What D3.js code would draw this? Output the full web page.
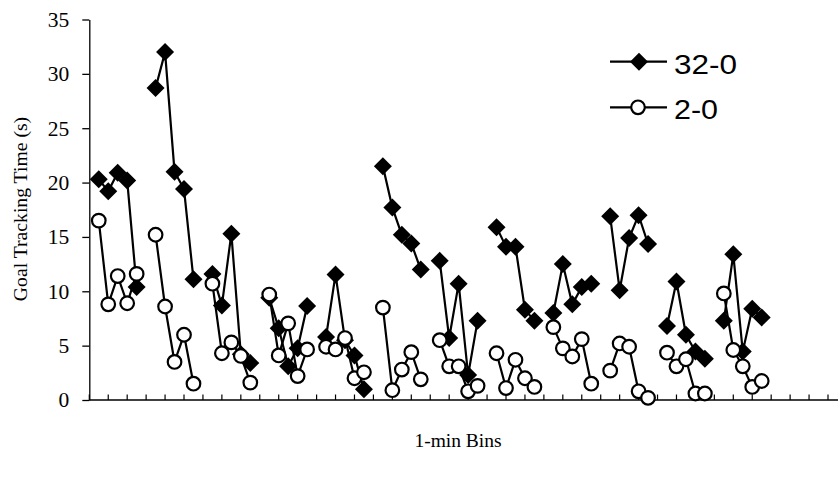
<!DOCTYPE html>
<html>
<head>
<meta charset="utf-8">
<script src="https://cdn.jsdelivr.net/npm/d3@7"></script>
<style>
  body { margin: 0; background: #fff; }
  svg { display: block; }
</style>
</head>
<body>
<div id="chart"></div>
<script>
// 1-min bins, null = gap between sessions
var series32 = [null,
  20.3, 19.2, 20.9, 20.2, 10.4, null,
  28.7, 32.0, 21.0, 19.4, 11.1, null,
  11.6, 8.7, 15.3, 4.2, 3.4, null,
  9.4, 6.6, 3.1, 4.75, 8.65, null,
  5.8, 11.55, 5.5, 4.1, 1.0, null,
  21.5, 17.7, 15.2, 14.4, 12.0, null,
  12.8, 5.7, 10.7, 2.3, 7.3, null,
  15.9, 14.1, 14.1, 8.3, 7.3, null,
  8.0, 12.5, 8.8, 10.4, 10.7, null,
  16.9, 10.1, 14.9, 17.0, 14.35, null,
  6.8, 10.9, 6.0, 4.45, 3.8, null,
  7.3, 13.4, 4.45, 8.4, 7.6];

var series2 = [null,
  16.5, 8.8, 11.4, 8.9, 11.6, null,
  15.2, 8.6, 3.5, 6.0, 1.5, null,
  10.7, 4.3, 5.3, 4.05, 1.6, null,
  9.7, 4.1, 7.05, 2.2, 4.65, null,
  4.9, 4.65, 5.7, 2.0, 2.55, null,
  8.5, 0.9, 2.8, 4.4, 1.9, null,
  5.5, 3.1, 3.1, 0.8, 1.3, null,
  4.3, 1.1, 3.7, 2.0, 1.2, null,
  6.7, 4.75, 4.0, 5.6, 1.5, null,
  2.7, 5.2, 4.9, 0.8, 0.2, null,
  4.35, 3.1, 3.75, 0.6, 0.6, null,
  9.8, 4.6, 3.1, 1.2, 1.75];

var seriesNames = ["32-0", "2-0"];
var yTicks = [0, 5, 10, 15, 20, 25, 30, 35];
var nBins = 78;

var width = 838, height = 478;
var svg = d3.select("#chart").append("svg").attr("width", width).attr("height", height);

var x = d3.scaleLinear().domain([0, nBins]).range([89.3, 828]);
var y = d3.scaleLinear().domain([0, 35]).range([400, 19.5]);

var serif = "'Liberation Serif', 'Times New Roman', serif";
var sans = "'Liberation Sans', Arial, Helvetica, sans-serif";

// y axis
var yAxis = svg.append("g").attr("transform", "translate(" + x(0) + ",0)")
  .call(d3.axisLeft(y).tickValues(yTicks).tickSize(7).tickPadding(13).tickSizeOuter(0));
yAxis.select(".domain").attr("stroke", "#000").attr("stroke-width", 1.3);
yAxis.selectAll(".tick line").attr("stroke", "#000").attr("stroke-width", 1.3);
yAxis.selectAll("text").style("font-family", serif).style("font-size", "21.5px").attr("fill", "#000");

// x axis: ticks every 2 bins, pointing up
var xTickVals = d3.range(0, nBins + 1, 2);
var xAxis = svg.append("g").attr("transform", "translate(0," + y(0) + ")");
xAxis.append("line").attr("x1", x(0)).attr("x2", 838).attr("y1", 0).attr("y2", 0)
  .attr("stroke", "#000").attr("stroke-width", 1.3);
xAxis.selectAll(".xt").data(xTickVals).enter().append("line")
  .attr("class", "xt")
  .attr("x1", d => x(d)).attr("x2", d => x(d))
  .attr("y1", 0).attr("y2", -5.5)
  .attr("stroke", "#000").attr("stroke-width", 1.2);

// axis titles
svg.append("text")
  .attr("transform", "translate(27,209) rotate(-90)")
  .attr("text-anchor", "middle")
  .style("font-family", serif).style("font-size", "19.7px")
  .text("Goal Tracking Time (s)");

svg.append("text")
  .attr("x", 458).attr("y", 447)
  .attr("text-anchor", "middle")
  .style("font-family", serif).style("font-size", "19.5px")
  .text("1-min Bins");

var line = d3.line()
  .defined(d => d.v != null)
  .x(d => x(d.i)).y(d => y(d.v));

function toPts(arr){
  return arr.map((v, i) => ({i: i, v: v}));
}

function drawDiamondMarker(g, cx, cy){
  var s = 9;
  g.append("path")
    .attr("d", "M" + cx + "," + (cy - s) + "L" + (cx + s) + "," + cy + "L" + cx + "," + (cy + s) + "L" + (cx - s) + "," + cy + "Z")
    .attr("fill", "#000");
}

// series 32-0
var pts32 = toPts(series32);
var g32 = svg.append("g");
g32.append("path").datum(pts32).attr("d", line)
  .attr("fill", "none").attr("stroke", "#000").attr("stroke-width", 2.2);
pts32.filter(d => d.v != null).forEach(d => drawDiamondMarker(g32, x(d.i), y(d.v)));

// series 2-0
var pts2 = toPts(series2);
var g2 = svg.append("g");
g2.append("path").datum(pts2).attr("d", line)
  .attr("fill", "none").attr("stroke", "#000").attr("stroke-width", 2.2);
g2.selectAll("circle").data(pts2.filter(d => d.v != null)).enter().append("circle")
  .attr("cx", d => x(d.i)).attr("cy", d => y(d.v)).attr("r", 6.8)
  .attr("fill", "#fff").attr("stroke", "#000").attr("stroke-width", 2.2);

// legend
var legend = svg.append("g");
legend.append("line").attr("x1", 610).attr("x2", 667).attr("y1", 61.7).attr("y2", 61.7)
  .attr("stroke", "#000").attr("stroke-width", 2.2);
drawDiamondMarker(legend, 639, 61.7);
legend.append("text").attr("x", 674).attr("y", 73.5)
  .attr("textLength", 63).attr("lengthAdjust", "spacingAndGlyphs")
  .style("font-family", sans).style("font-size", "27px")
  .text(seriesNames[0]);

legend.append("line").attr("x1", 610).attr("x2", 667).attr("y1", 107.3).attr("y2", 107.3)
  .attr("stroke", "#000").attr("stroke-width", 2.2);
legend.append("circle").attr("cx", 638).attr("cy", 107.3).attr("r", 6.8)
  .attr("fill", "#fff").attr("stroke", "#000").attr("stroke-width", 2.2);
legend.append("text").attr("x", 674).attr("y", 119)
  .attr("textLength", 44).attr("lengthAdjust", "spacingAndGlyphs")
  .style("font-family", sans).style("font-size", "27px")
  .text(seriesNames[1]);
</script>
</body>
</html>
